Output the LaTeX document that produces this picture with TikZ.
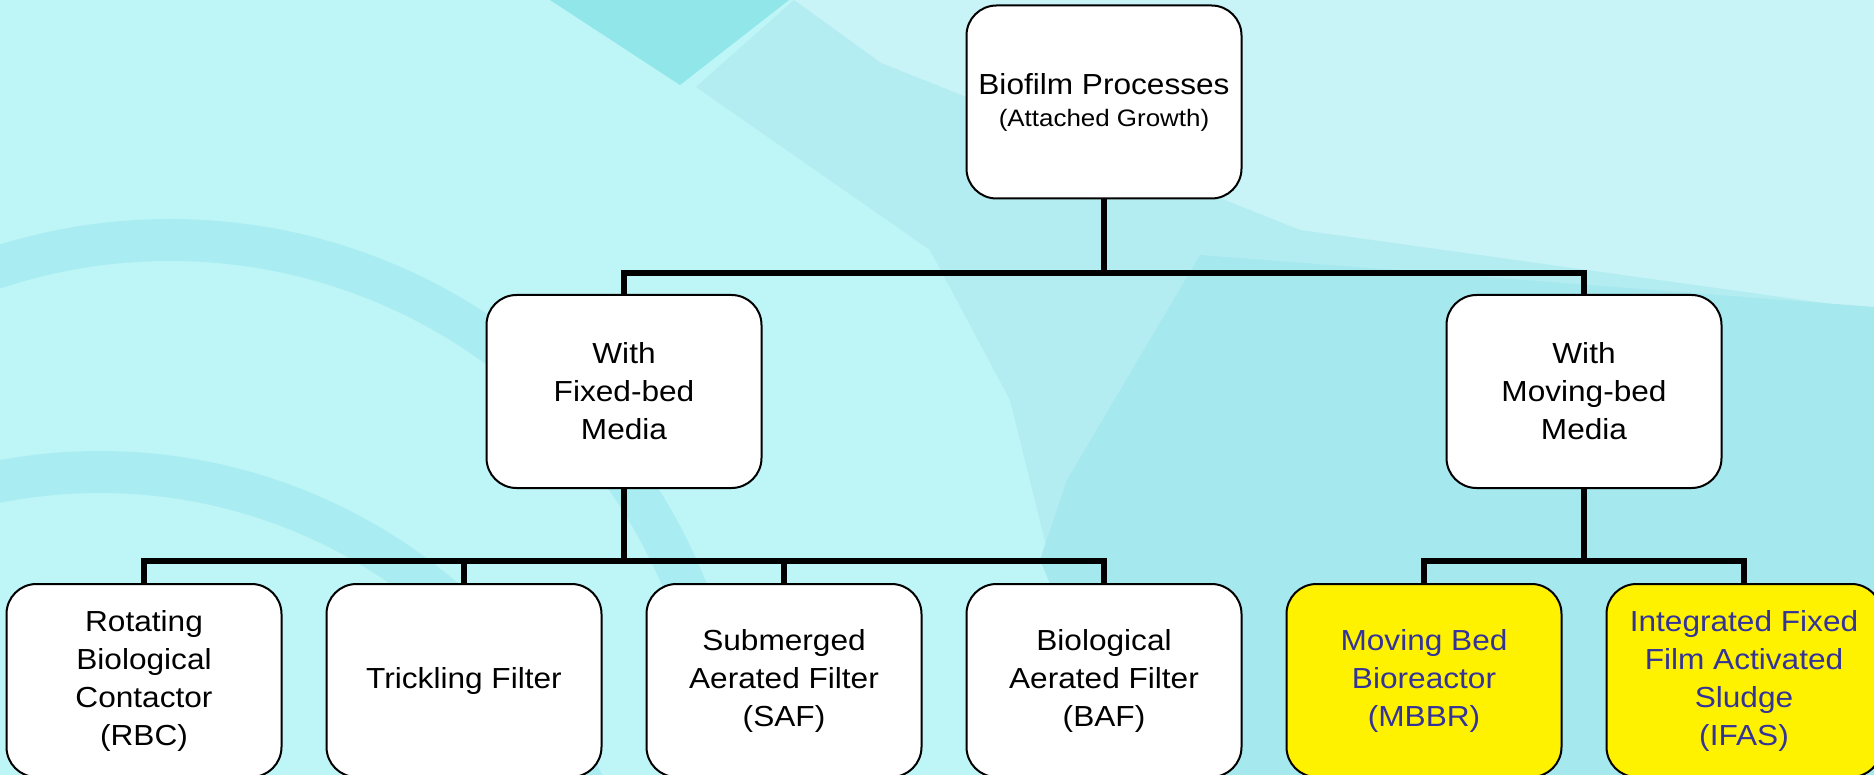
\documentclass[tikz,border=0pt]{standalone}
\usepackage{fontspec}
\setmainfont{Liberation Sans}[FakeStretch=1.09]
\definecolor{bgbase}{RGB}{190,245,247}
\definecolor{bgband}{RGB}{150,228,236}
\definecolor{bglight}{RGB}{200,243,247}
\definecolor{bgmid}{RGB}{180,237,241}
\definecolor{bgdark}{RGB}{165,232,238}
\definecolor{bgwedge}{RGB}{145,230,234}
\definecolor{bluetext}{RGB}{51,51,153}
\begin{document}
\begin{tikzpicture}[x=1pt,y=-1pt,
  box/.style={draw=black, line width=2pt, fill=white, rounded corners=30pt,
    minimum width=275pt, minimum height=193pt, inner sep=0pt, align=center,
    font=\fontsize{29}{38}\selectfont},
  hlbox/.style={box, fill=yellow, text=bluetext},
  conn/.style={line width=5.5pt, line join=miter, draw=black},
  band/.style={draw=bgband, line width=42pt, opacity=0.5}]
\useasboundingbox (0,0) rectangle (1874,775);
% background
\begin{scope}
\clip (0,0) rectangle (1874,775);
\fill[bgbase] (0,0) rectangle (1874,775);
\fill[bglight] (794,0) -- (1874,0) -- (1874,310) -- (1300,230) -- (881,63) -- cycle;
\fill[bgmid] (696,87) -- (794,0) -- (881,63) -- (1300,230) -- (1874,310)
  -- (1874,775) -- (1085,775) -- (1057,590) -- (1010,400) -- (930,250) -- cycle;
\fill[bgdark] (1200,255) -- (1067,480) -- (1040,560) -- (1057,600) -- (1085,775)
  -- (1874,775) -- (1874,307) -- cycle;
\fill[bgwedge] (550,0) -- (789,0) -- (680,85) -- cycle;
\draw[band] (170,796) circle [radius=556];
\draw[band] (100,1002) circle [radius=530];
\end{scope}
% nodes
\node[box] (top) at (1104,102) {Biofilm Processes\\[-6pt]{\fontsize{23.8}{32}\selectfont (Attached Growth)}};
\node[box] (fixed) at (624,391.5) {With\\Fixed-bed\\Media};
\node[box] (moving) at (1584,391.5) {With\\Moving-bed\\Media};
\node[box] (rbc) at (144,680.5) {Rotating\\Biological\\Contactor\\(RBC)};
\node[box] (tf) at (464,680.5) {Trickling Filter};
\node[box] (saf) at (784,680.5) {Submerged\\Aerated Filter\\(SAF)};
\node[box] (baf) at (1104,680.5) {Biological\\Aerated Filter\\(BAF)};
\node[hlbox] (mbbr) at (1424,680.5) {Moving Bed\\Bioreactor\\(MBBR)};
\node[hlbox] (ifas) at (1744,680.5) {Integrated Fixed\\Film Activated\\Sludge\\(IFAS)};
% connectors
\coordinate (b1) at (1104,273);
\coordinate (b2) at (624,561);
\coordinate (b3) at (1584,561);
\draw[conn] (top.south) -- (b1);
\draw[conn] (fixed.north) |- (b1) -| (moving.north);
\draw[conn] (fixed.south) -- (b2);
\draw[conn] (rbc.north) |- (b2) -| (baf.north);
\draw[conn] (tf.north) -- (tf.north |- b2);
\draw[conn] (saf.north) -- (saf.north |- b2);
\draw[conn] (moving.south) -- (b3);
\draw[conn] (mbbr.north) |- (b3) -| (ifas.north);
\end{tikzpicture}
\end{document}
